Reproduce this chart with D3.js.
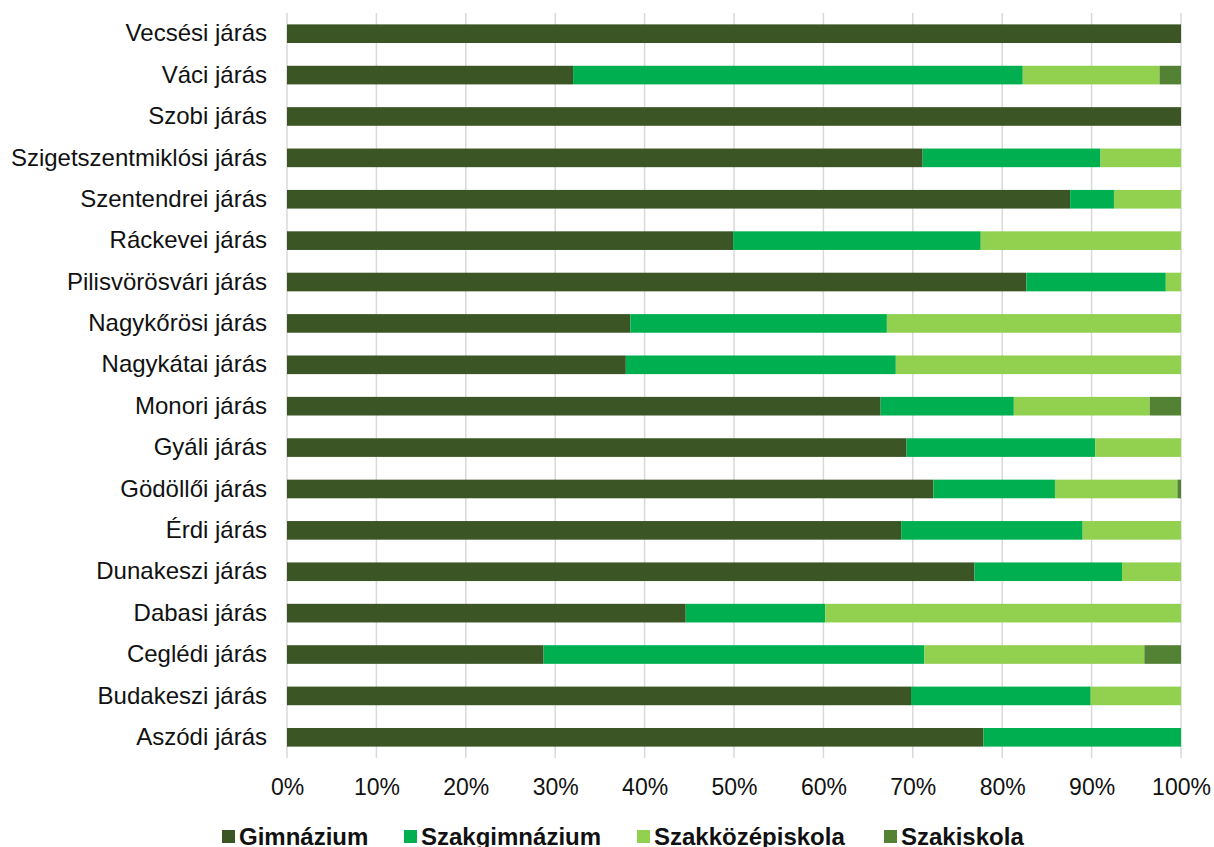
<!DOCTYPE html>
<html>
<head>
<meta charset="utf-8">
<script src="https://cdn.jsdelivr.net/npm/d3@7"></script>
<style>
  body { margin: 0; background: #fff; }
  svg { display: block; font-family: Arial, "Liberation Sans", sans-serif; }
</style>
</head>
<body>
<svg id="chart"></svg>
<script>
// districts, top to bottom as in the chart
const districts = [
  "Vecsési járás", "Váci járás", "Szobi járás", "Szigetszentmiklósi járás",
  "Szentendrei járás", "Ráckevei járás", "Pilisvörösvári járás", "Nagykőrösi járás",
  "Nagykátai járás", "Monori járás", "Gyáli járás", "Gödöllői járás",
  "Érdi járás", "Dunakeszi járás", "Dabasi járás", "Ceglédi járás",
  "Budakeszi járás", "Aszódi járás"
];

const schoolTypes = ["Gimnázium", "Szakgimnázium", "Szakközépiskola", "Szakiskola"];

// share in % per school type (same order as districts)
const gimnazium      = [100, 32.0, 100, 71.1, 87.6, 49.9, 82.7, 38.4, 37.9, 66.4, 69.3, 72.3, 68.7, 76.9, 44.6, 28.7, 69.8, 77.9];
const szakgimnazium  = [0, 50.3, 0, 19.9, 4.9, 27.7, 15.6, 28.7, 30.2, 14.9, 21.1, 13.6, 20.3, 16.5, 15.6, 42.6, 20.1, 22.1];
const szakkozep      = [0, 15.3, 0, 9.0, 7.5, 22.4, 1.7, 32.9, 31.9, 15.2, 9.6, 13.7, 11.0, 6.6, 39.8, 24.6, 10.1, 0];
const szakiskola     = [0, 2.4, 0, 0, 0, 0, 0, 0, 0, 3.5, 0, 0.4, 0, 0, 0, 4.1, 0, 0];

const tickLabels = ["0%", "10%", "20%", "30%", "40%", "50%", "60%", "70%", "80%", "90%", "100%"];

const colors = ["#3b5524", "#00af50", "#92d050", "#548235"];

const width = 1214, height = 847;
const margin = { top: 13, right: 33, bottom: 89, left: 287 };

const svg = d3.select("#chart").attr("width", width).attr("height", height);

// build rows for the stack
const table = districts.map((name, i) => ({
  name,
  "Gimnázium": gimnazium[i],
  "Szakgimnázium": szakgimnazium[i],
  "Szakközépiskola": szakkozep[i],
  "Szakiskola": szakiskola[i]
}));

// normalise each row to 100%
const stack = d3.stack().keys(schoolTypes).offset(d3.stackOffsetExpand);
const layers = stack(table);

const x = d3.scaleLinear()
  .domain([0, 1])
  .range([margin.left, width - margin.right]);

const y = d3.scaleBand()
  .domain(districts)
  .range([margin.top, height - margin.bottom])
  .paddingInner(0.55)
  .paddingOuter(0.275);

// gridlines
svg.append("g")
  .selectAll("line")
  .data(d3.range(0, 1.0001, 0.1))
  .join("line")
  .attr("x1", d => x(d)).attr("x2", d => x(d))
  .attr("y1", margin.top).attr("y2", height - margin.bottom)
  .attr("stroke", "#d9d9d9")
  .attr("stroke-width", 1.5);

// bars
svg.append("g")
  .selectAll("g")
  .data(layers)
  .join("g")
  .attr("fill", (d, i) => colors[i])
  .selectAll("rect")
  .data(d => d)
  .join("rect")
  .attr("x", d => x(d[0]))
  .attr("y", d => y(d.data.name))
  .attr("width", d => Math.max(0, x(d[1]) - x(d[0])))
  .attr("height", y.bandwidth());

// category labels
svg.append("g")
  .attr("transform", `translate(${margin.left}, 0)`)
  .call(d3.axisLeft(y).tickSize(0).tickPadding(20))
  .call(g => g.select(".domain").remove())
  .selectAll("text")
  .attr("font-family", "Arial, 'Liberation Sans', sans-serif")
  .attr("font-size", 24)
  .attr("fill", "#111");

// percent axis
svg.append("g")
  .attr("transform", `translate(0, ${height - margin.bottom})`)
  .call(d3.axisBottom(x).tickValues(d3.range(0, 1.0001, 0.1)).tickSize(0).tickPadding(21)
    .tickFormat((d, i) => tickLabels[i]))
  .call(g => g.select(".domain").remove())
  .selectAll("text")
  .attr("font-family", "Arial, 'Liberation Sans', sans-serif")
  .attr("font-size", 23)
  .attr("fill", "#111");

// legend
const legendX = [222, 404, 637, 884];
const legend = svg.append("g")
  .selectAll("g")
  .data(schoolTypes)
  .join("g")
  .attr("transform", (d, i) => `translate(${legendX[i]}, 837)`);

legend.append("rect")
  .attr("x", 0).attr("y", -7)
  .attr("width", 13).attr("height", 13)
  .attr("fill", (d, i) => colors[i]);

legend.append("text")
  .attr("x", 17)
  .attr("dy", "0.35em")
  .attr("font-size", 24)
  .attr("font-weight", "bold")
  .attr("fill", "#111")
  .text(d => d);
</script>
</body>
</html>
